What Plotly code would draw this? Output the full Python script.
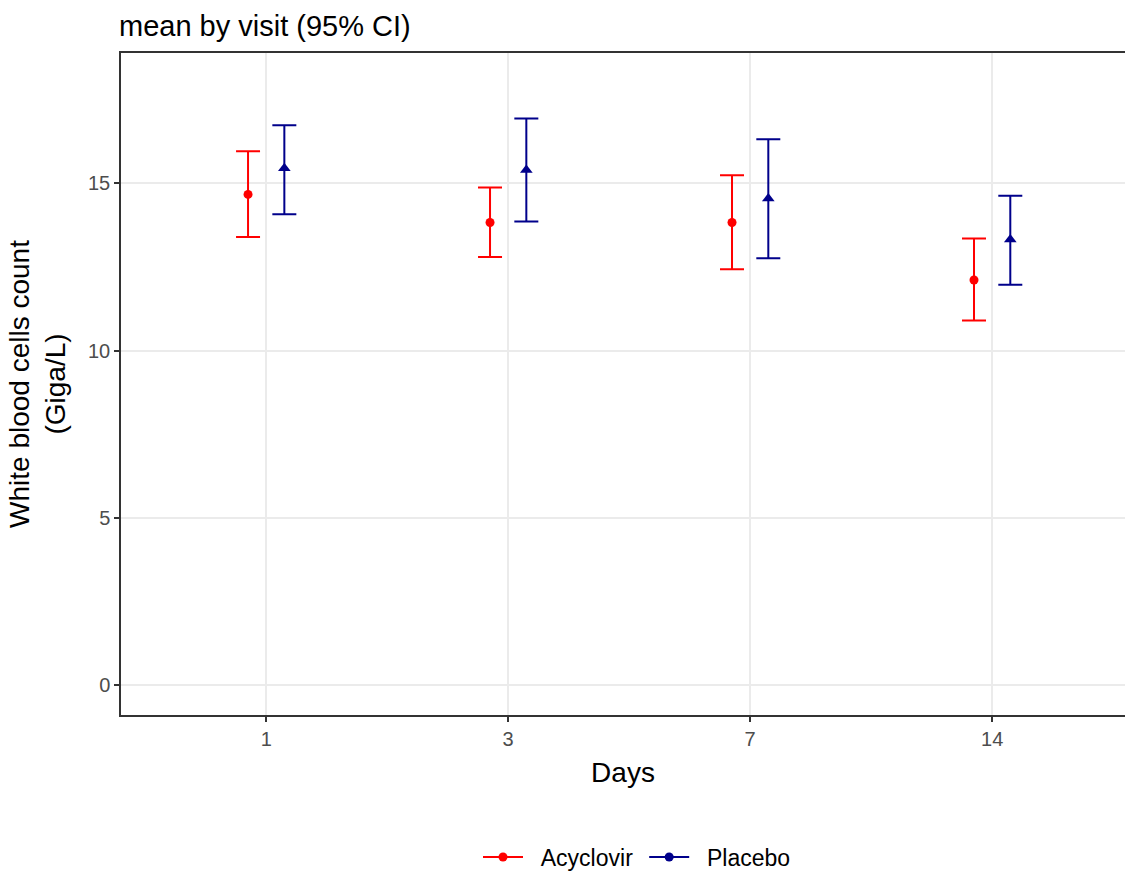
import plotly.graph_objects as go

days = ["1", "3", "7", "14"]
groups = ["Acyclovir", "Placebo"]
acy_mean = [14.67, 13.83, 13.83, 12.11]
acy_lower = [13.40, 12.80, 12.43, 10.90]
acy_upper = [15.96, 14.88, 15.24, 13.35]
pla_mean = [15.45, 15.40, 14.55, 13.32]
pla_lower = [14.08, 13.86, 12.76, 11.97]
pla_upper = [16.74, 16.94, 16.32, 14.63]
y_ticks = [0, 5, 10, 15]

colors = {"Acyclovir": "#FF0000", "Placebo": "#00008B"}
symbols = {"Acyclovir": "circle", "Placebo": "triangle-up"}
sizes = {"Acyclovir": 9, "Placebo": 11}
dodge = {"Acyclovir": -0.075, "Placebo": 0.075}
series = {
    "Acyclovir": (acy_mean, acy_lower, acy_upper),
    "Placebo": (pla_mean, pla_lower, pla_upper),
}
NB = "\u00a0"

fig = go.Figure()
for g in groups:
    m, lo, up = series[g]
    xs = [i + dodge[g] for i in range(len(days))]
    fig.add_trace(go.Scatter(
        x=xs, y=m, mode="markers", showlegend=False, name=g,
        marker=dict(color=colors[g], symbol=symbols[g], size=sizes[g]),
        error_y=dict(type="data", symmetric=False,
                     array=[u - v for u, v in zip(up, m)],
                     arrayminus=[v - l for v, l in zip(m, lo)],
                     color=colors[g], thickness=2, width=12),
    ))
for g in groups:
    fig.add_trace(go.Scatter(
        x=[None], y=[None], mode="lines+markers", name=NB * 2 + g + NB,
        line=dict(color=colors[g], width=2),
        marker=dict(color=colors[g], symbol="circle", size=9),
    ))

fig.update_layout(
    width=1125, height=874,
    margin=dict(l=121, r=0, t=53, b=159),
    plot_bgcolor="white", paper_bgcolor="white",
    font=dict(family="Liberation Sans, Arial, sans-serif", color="#000000"),
    title=dict(text="mean by visit (95% CI)", x=119/1125, xref="container", xanchor="left",
               y=1 - 26/874, yref="container", yanchor="middle",
               font=dict(size=29, color="#000000")),
    legend=dict(orientation="h", x=640/1125, xanchor="center", xref="container",
                y=1 - 857/874, yref="container", yanchor="middle",
                font=dict(size=23, color="#000000"), itemwidth=40),
    xaxis=dict(range=[-0.6, 3.549], tickmode="array", tickvals=list(range(len(days))),
               ticktext=days, showgrid=True, gridcolor="#EBEBEB", gridwidth=1.5,
               zeroline=False, showline=True, linecolor="#333333", linewidth=1.5, mirror=True,
               ticks="outside", ticklen=5, tickcolor="#333333", tickwidth=1.5,
               tickfont=dict(size=20, color="#4D4D4D"),
               title=dict(text="Days", font=dict(size=28, color="#000000"), standoff=14)),
    yaxis=dict(range=[-0.9, 18.9], tickmode="array", tickvals=y_ticks,
               showgrid=True, gridcolor="#EBEBEB", gridwidth=1.5,
               zeroline=False, showline=True, linecolor="#333333", linewidth=1.5, mirror=False,
               ticks="outside", ticklen=5, tickcolor="#333333", tickwidth=1.5,
               tickfont=dict(size=20, color="#4D4D4D"),
               title=dict(text="White blood cells count<br>(Giga/L)",
                          font=dict(size=28, color="#000000"), standoff=14)),
)

fig.write_html("out.html", config={"displayModeBar": False},
               post_script="document.body.style.margin='0';")
